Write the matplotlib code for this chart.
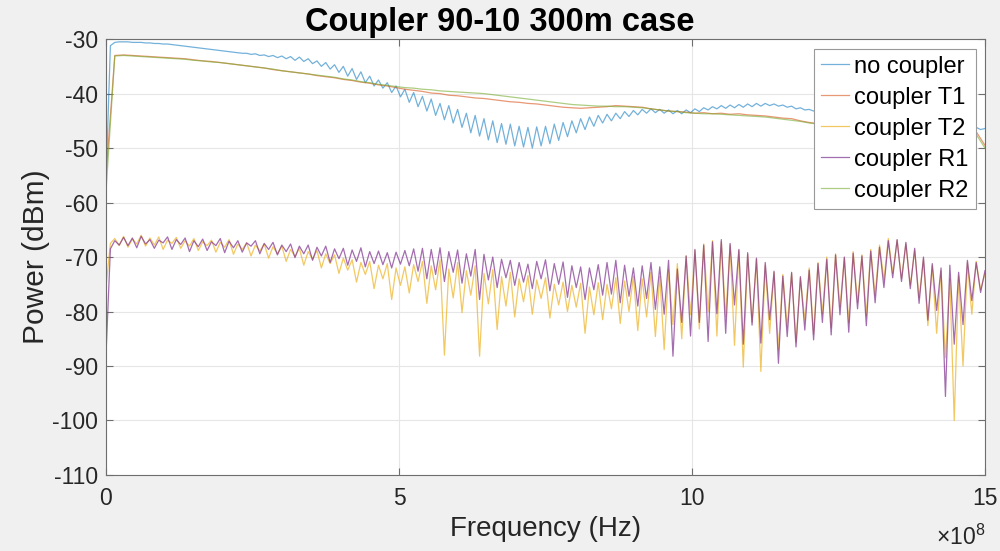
import numpy as np
import matplotlib.pyplot as plt

plt.rcParams['font.family'] = ['Liberation Sans', 'DejaVu Sans']
plt.rcParams['mathtext.fontset'] = 'custom'
plt.rcParams['mathtext.rm'] = 'Liberation Sans'
plt.rcParams['axes.unicode_minus'] = False

# power readings (dBm), uniform frequency grid from 0 to 1.5 GHz
no_coupler = [
    -56.0, -31.2, -30.6, -30.5, -30.5, -30.5, -30.6, -30.6, -30.6, -30.7,
    -30.7, -30.8, -30.8, -30.9, -30.9, -31.0, -31.1, -31.2, -31.3, -31.4,
    -31.5, -31.6, -31.7, -31.8, -31.9, -32.0, -32.1, -32.2, -32.3, -32.4,
    -32.5, -32.6, -32.6, -32.8, -32.7, -33.0, -32.9, -33.2, -33.0, -33.4,
    -33.1, -33.6, -33.2, -33.9, -33.3, -34.1, -33.6, -34.5, -34.0, -35.0,
    -34.3, -35.5, -34.7, -36.1, -35.0, -36.8, -35.4, -37.4, -36.0, -38.0,
    -36.8, -38.6, -37.5, -39.0, -38.0, -39.8, -38.6, -40.6, -39.2, -41.6,
    -39.8, -42.4, -40.5, -43.2, -41.0, -44.0, -41.8, -44.8, -42.2, -45.4,
    -42.9, -46.2, -43.6, -47.2, -44.0, -47.8, -44.6, -48.5, -45.0, -49.0,
    -45.5, -49.3, -45.6, -49.6, -46.0, -49.8, -46.2, -50.0, -46.1, -49.6,
    -46.0, -49.2, -45.6, -48.6, -45.3, -47.9, -45.0, -47.2, -44.6, -46.6,
    -44.3, -46.0, -44.0, -45.4, -43.8, -45.0, -43.6, -44.6, -43.3, -44.2,
    -43.1, -43.9, -42.9, -43.6, -42.8, -43.5, -42.9, -43.6, -43.0, -43.7,
    -43.1, -43.7, -43.0, -43.5, -42.8, -43.3, -42.6, -43.0, -42.4, -42.8,
    -42.2, -42.7, -42.1, -42.6, -42.0, -42.5, -41.9, -42.4, -41.8, -42.3,
    -41.8, -42.2, -41.9, -42.3, -42.1, -42.5, -42.3, -42.8, -42.6, -43.0,
    -42.9, -43.2, -43.3, -43.5, -43.4, -43.6, -43.5, -43.8, -43.6, -43.9,
    -43.8, -44.1, -44.0, -44.3, -44.2, -44.5, -44.4, -44.7, -44.6, -44.9,
    -44.8, -45.1, -45.0, -45.3, -45.2, -45.5, -45.4, -45.7, -45.6, -45.9,
    -45.8, -46.1, -45.9, -46.3, -46.0, -46.4, -46.1, -46.5, -46.2, -46.6,
    -46.4,
]

coupler_t1 = [
    -55.0, -33.0, -32.9, -33.0, -33.1, -33.2, -33.3, -33.4, -33.5, -33.6,
    -33.8, -34.0, -34.1, -34.3, -34.5, -34.7, -34.9, -35.1, -35.3, -35.6,
    -35.8, -36.0, -36.2, -36.4, -36.7, -36.9, -37.1, -37.4, -37.6, -37.9,
    -38.1, -38.4, -38.6, -38.9, -39.2, -39.4, -39.6, -39.9, -40.0, -40.3,
    -40.4, -40.6, -40.8, -40.9, -41.1, -41.3, -41.5, -41.6, -41.8, -41.9,
    -42.1, -42.3, -42.5, -42.6, -42.7, -42.6, -42.5, -42.4, -42.2, -42.3,
    -42.4, -42.5, -42.8, -43.0, -43.2, -43.3, -43.4, -43.6, -43.5, -43.7,
    -43.6, -43.8, -43.7, -43.9, -44.0, -44.1, -44.3, -44.5, -44.6, -45.0,
    -45.3, -45.5, -45.7, -45.9, -46.1, -46.3, -46.5, -46.7, -46.9, -47.1,
    -47.3, -47.5, -47.7, -47.9, -48.1, -48.3, -48.5, -48.7, -48.8, -47.0,
    -49.5,
]

coupler_t2 = [
    -75.5, -67.5, -66.6, -67.9, -66.2, -68.2, -66.7, -67.6, -66.0, -68.0,
    -66.5, -67.8, -66.3, -68.6, -66.9, -67.5, -66.4, -68.4, -67.0, -68.0,
    -66.6, -68.8, -67.2, -67.9, -66.9, -69.1, -67.3, -68.2, -66.8, -69.5,
    -67.6, -68.6, -67.4, -69.8, -67.8, -68.9, -67.6, -70.2, -68.1, -69.4,
    -68.0, -70.8, -68.6, -69.9, -68.4, -71.5, -69.0, -70.4, -68.8, -72.0,
    -69.4, -71.2, -69.6, -73.0, -70.2, -72.4, -70.5, -74.6, -71.0, -73.2,
    -70.8, -75.8, -71.5, -74.0, -71.2, -77.8, -72.0, -75.2, -71.8, -76.6,
    -71.4, -74.5, -70.8, -78.5, -71.6, -76.0, -70.5, -88.0, -72.2, -77.5,
    -71.0, -80.2, -72.5, -77.0, -71.6, -88.2, -73.0, -78.6, -72.3, -83.3,
    -73.6, -79.0, -72.8, -81.0, -74.0, -78.2, -73.4, -80.5, -74.2, -77.6,
    -73.8, -81.2, -75.0, -78.8, -74.6, -80.0, -75.2, -79.2, -74.8, -84.0,
    -75.5, -80.6, -74.7, -81.5, -75.0, -79.5, -73.8, -82.2, -74.4, -80.0,
    -73.5, -83.5, -74.0, -81.0, -72.8, -84.6, -73.5, -87.0, -72.4, -82.4,
    -71.2, -85.0, -69.8, -80.6, -68.8, -83.2, -67.6, -80.0, -67.0, -84.5,
    -67.2, -81.0, -67.8, -86.2, -68.8, -90.2, -69.5, -82.0, -70.4, -91.0,
    -71.5, -84.0, -72.8, -87.0, -73.2, -82.8, -73.0, -85.6, -73.8, -81.6,
    -72.0, -84.2, -71.0, -80.4, -70.0, -83.0, -69.4, -79.2, -70.2, -82.0,
    -69.0, -78.4, -69.6, -80.8, -68.6, -77.0, -67.8, -74.2, -66.6, -73.0,
    -66.9, -74.0, -67.6, -75.2, -68.8, -77.5, -70.4, -82.6, -71.6, -84.0,
    -72.5, -88.5, -74.0, -100.0, -73.5, -90.0, -71.0, -80.5, -70.8, -76.0,
    -73.0,
]

coupler_r1 = [
    -88.0, -68.5, -67.0, -67.8, -66.4, -67.9, -66.5, -68.3, -66.2, -67.6,
    -66.8, -68.4, -66.9, -67.4, -66.3, -68.6, -66.8, -67.7, -66.5, -69.0,
    -67.0, -68.1, -66.7, -68.8, -67.2, -67.9, -66.6, -69.2, -67.1, -68.3,
    -67.0, -69.1, -67.4, -68.0, -67.0, -69.4, -67.5, -68.6, -67.3, -69.6,
    -67.8, -69.0, -67.6, -70.1, -68.0, -69.4, -67.8, -70.6, -68.2, -69.8,
    -68.0, -71.0, -68.5, -70.3, -68.4, -71.5, -68.7, -70.8, -68.3, -71.8,
    -69.0, -71.2, -68.9, -71.4, -69.2, -72.0, -69.1, -71.3, -68.8, -71.6,
    -68.5, -72.6, -68.4, -74.0, -68.6, -73.2, -68.3, -74.5, -69.0, -72.8,
    -68.7, -74.8, -69.4, -73.5, -68.6, -77.8, -69.5, -74.2, -70.0, -75.6,
    -70.4, -73.8, -70.6, -75.2, -71.0, -74.6, -71.3, -75.8, -70.8, -74.0,
    -70.5, -76.2, -71.2, -75.0, -70.9, -77.4, -71.6, -75.6, -71.8, -77.8,
    -72.0, -76.0, -71.4, -77.0, -71.0, -76.8, -70.6, -78.4, -71.5, -77.2,
    -72.0, -79.0, -71.6, -77.6, -71.0, -79.6, -71.8, -80.5, -70.6, -88.2,
    -72.2, -82.0, -69.8, -84.5, -68.6, -82.0, -67.8, -85.5, -67.2, -80.4,
    -66.8, -84.0, -67.5, -78.8, -68.6, -86.0, -69.2, -82.5, -70.2, -85.8,
    -71.0, -81.5, -72.6, -89.5, -73.5, -84.6, -72.8, -86.5, -73.6, -83.4,
    -72.4, -85.2, -71.2, -82.0, -70.4, -84.3, -69.6, -80.6, -70.0, -83.8,
    -69.3, -79.5, -69.8, -82.6, -68.9, -78.4, -68.2, -75.6, -67.0, -73.8,
    -66.8, -74.5, -67.3, -75.8, -68.4, -78.5, -70.0, -81.6, -71.2, -79.8,
    -72.0, -95.6, -71.5, -86.0, -72.8, -82.4, -70.6, -78.0, -71.0, -76.5,
    -72.5,
]

coupler_r2 = [
    -58.0, -33.1, -33.0, -33.1, -33.2, -33.3, -33.4, -33.5, -33.6, -33.7,
    -33.9, -34.0, -34.2, -34.3, -34.5, -34.7, -34.9, -35.1, -35.3, -35.5,
    -35.8, -36.0, -36.2, -36.4, -36.6, -36.8, -37.0, -37.3, -37.5, -37.8,
    -38.0, -38.3, -38.5, -38.7, -38.9, -39.0, -39.2, -39.3, -39.5, -39.6,
    -39.7, -39.8, -39.9, -40.0, -40.2, -40.4, -40.6, -40.8, -41.0, -41.2,
    -41.4, -41.6, -41.8, -42.0, -42.1, -42.2, -42.3, -42.3, -42.4, -42.4,
    -42.5, -42.6, -42.8, -43.0, -43.2, -43.3, -43.5, -43.6, -43.7, -43.7,
    -43.8, -43.9, -44.0, -44.1, -44.2, -44.3, -44.5, -44.7, -44.9, -45.1,
    -45.4, -45.6, -45.8, -46.0, -46.2, -46.4, -46.6, -46.8, -47.0, -47.2,
    -47.4, -47.6, -47.8, -48.0, -48.2, -48.3, -48.4, -48.5, -48.6, -47.5,
    -50.0,
]

series = [
    ('no coupler', no_coupler, '#0072BD', 0.55),
    ('coupler T1', coupler_t1, '#D95319', 0.6),
    ('coupler T2', coupler_t2, '#EDB120', 0.7),
    ('coupler R1', coupler_r1, '#7E2F8E', 0.7),
    ('coupler R2', coupler_r2, '#77AC30', 0.6),
]

f_max = 1.5e9
x_ticks = [0, 5e8, 10e8, 15e8]
x_tick_labels = ['0', '5', '10', '15']
y_ticks = list(range(-110, -29, 10))

fig = plt.figure(figsize=(10, 5.51), dpi=100, facecolor='#f0f0f0')
ax = fig.add_axes([0.106, 0.138, 0.879, 0.791])

for name, vals, color, alpha in series:
    freq = np.linspace(0, f_max, len(vals))
    ax.plot(freq, vals, color=color, alpha=alpha, linewidth=0.9, label=name)

ax.set_xlim(0, f_max)
ax.set_ylim(-110, -30)
ax.set_xticks(x_ticks)
ax.set_xticklabels(x_tick_labels)
ax.set_yticks(y_ticks)

ax.grid(True, color='#e6e6e6', linewidth=0.8)
ax.set_axisbelow(True)
for sp in ax.spines.values():
    sp.set_color('#6e6e6e')
    sp.set_linewidth(0.8)

ax.tick_params(direction='in', length=5, width=0.8, color='#6e6e6e',
               top=True, right=True, labelsize=16.5, labelcolor='#262626')
ax.tick_params(axis='x', pad=9)
ax.tick_params(axis='y', pad=6)

ax.set_xlabel('Frequency (Hz)', fontsize=20, color='#262626', labelpad=4)
ax.set_ylabel('Power (dBm)', fontsize=21.5, color='#262626', labelpad=1)
ax.set_title('Coupler 90-10 300m case', fontsize=23.5, fontweight='bold',
             color='#000000', pad=6, x=0.448)

fig.text(0.985, 0.025, r'$\times10^{8}$', fontsize=16.5, color='#262626',
         ha='right', va='center')

leg = ax.legend(loc='upper right', fontsize=17, fancybox=False, framealpha=1,
                edgecolor='#999999', handlelength=1.2, handletextpad=0.2,
                labelspacing=0.38, borderpad=0.3, borderaxespad=0.4)
leg.get_frame().set_linewidth(0.8)

fig.savefig('out.png', dpi=100, facecolor=fig.get_facecolor())
